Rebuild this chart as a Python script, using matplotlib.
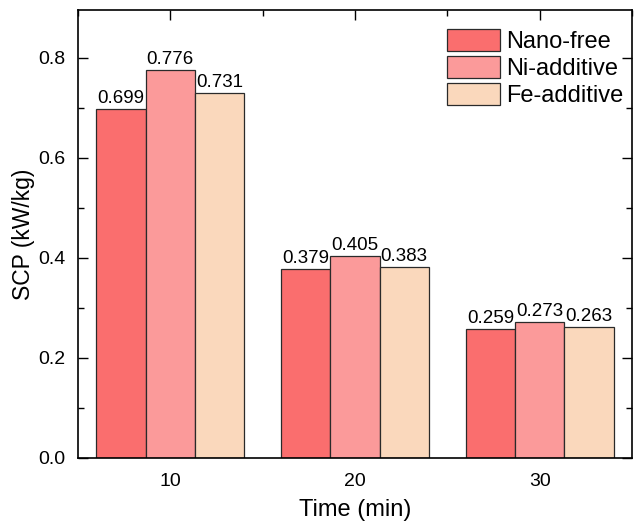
import matplotlib.pyplot as plt
import numpy as np
from matplotlib.ticker import MultipleLocator

plt.rcParams['font.family'] = ['Liberation Sans', 'DejaVu Sans']

times = [10, 20, 30]
series = ['Nano-free', 'Ni-additive', 'Fe-additive']
nano_free = [0.699, 0.379, 0.259]
ni_additive = [0.776, 0.405, 0.273]
fe_additive = [0.731, 0.383, 0.263]
colors = ['#FA6E6E', '#FB9A9A', '#FAD8BC']

fig = plt.figure(figsize=(6.41, 5.24), dpi=100)
ax = fig.add_axes([78 / 641, 1 - 458 / 524, (632 - 78) / 641, (458 - 10) / 524])

width = 8 / 3
x = np.array(times, dtype=float)
for i, (name, vals) in enumerate(zip(series, [nano_free, ni_additive, fe_additive])):
	pos = x + (i - 1) * width
	ax.bar(pos, vals, width=width, color=colors[i], edgecolor='#2a2a2a',
		linewidth=0.9, label=name, zorder=2)
	for p, v in zip(pos, vals):
		ax.text(p, v + 0.003, '%.3f' % v, ha='center', va='bottom', fontsize=13.5, zorder=3)

ax.set_xlim(5, 35)
ax.set_ylim(0, 0.896)
ax.set_xticks(times)
ax.xaxis.set_minor_locator(MultipleLocator(5))
ax.yaxis.set_major_locator(MultipleLocator(0.2))
ax.yaxis.set_minor_locator(MultipleLocator(0.1))
ax.yaxis.set_major_formatter(plt.FormatStrFormatter('%.1f'))

# all ticks point inward (origin style)
ax.tick_params(axis='y', which='major', direction='in', length=7, width=1, labelsize=14,
	right=True, pad=9)
ax.tick_params(axis='y', which='minor', direction='in', length=4, width=1, right=True)
ax.tick_params(axis='x', which='major', direction='in', length=7, width=1, labelsize=14,
	top=True, bottom=False, pad=11)
ax.tick_params(axis='x', which='minor', direction='in', length=4, width=1, top=True, bottom=False)

for s in ax.spines.values():
	s.set_linewidth(1.2)

ax.set_xlabel('Time (min)', fontsize=17, labelpad=6)
ax.set_ylabel('SCP (kW/kg)', fontsize=16.5, labelpad=2)

leg = ax.legend(loc='upper left', bbox_to_anchor=((447 - 78) / 554, (458 - 29) / 448),
	fontsize=17, frameon=False, handlelength=2.25, handleheight=1.05,
	handletextpad=0.25, labelspacing=0.12, borderpad=0, borderaxespad=0)
for h in leg.legend_handles:
	h.set_edgecolor('#2a2a2a')

fig.savefig('out.png', dpi=100)
